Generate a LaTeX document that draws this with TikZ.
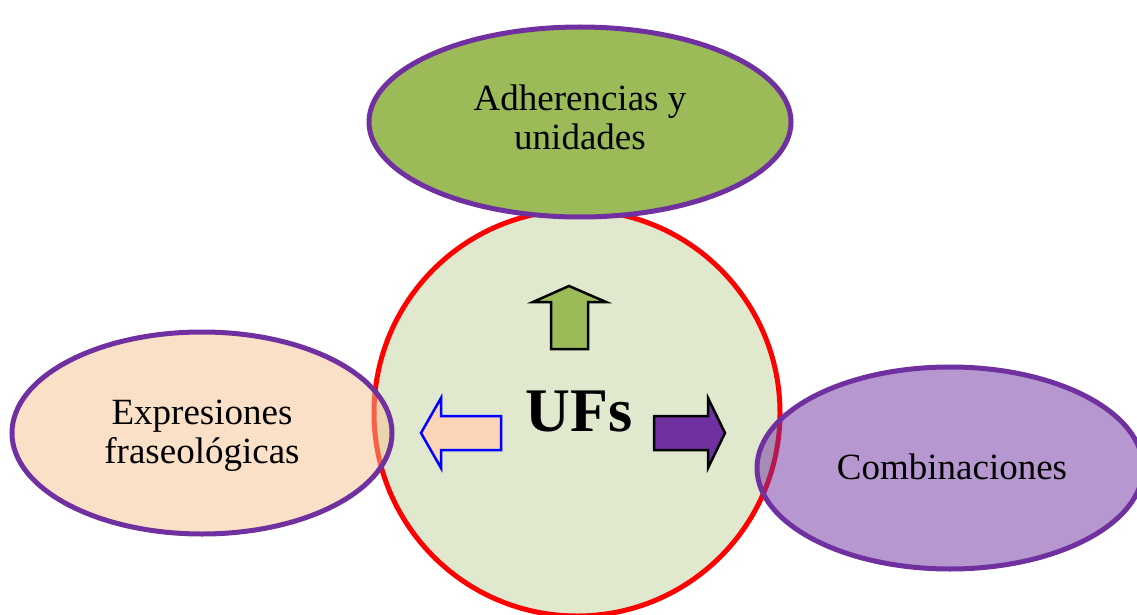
\documentclass[tikz,border=0pt]{standalone}
\usepackage{fontspec}
\setmainfont{Liberation Serif}
\definecolor{ringred}{HTML}{FF0000}
\definecolor{corefill}{HTML}{E0E9CD}
\definecolor{olive}{HTML}{9BBB59}
\definecolor{violet}{HTML}{7030A0}
\definecolor{peach}{HTML}{F7C191}
\definecolor{peachlight}{HTML}{FBD5B5}
\begin{document}
\begin{tikzpicture}[x=1pt,y=-1pt,
  blob/.style={draw=violet,line width=5pt},
  label/.style={font=\fontsize{37}{39}\selectfont,align=center,inner sep=0pt},
  arrowshape/.style={line width=2.5pt,line join=miter}]
\useasboundingbox (0,0) rectangle (1137,615);
\clip (0,0) rectangle (1137,615);
% central circle
\node[circle,draw=ringred,fill=corefill,line width=5pt,minimum size=406pt,inner sep=0pt] (core) at (577,413) {};
% top ellipse (opaque)
\draw[blob,fill=olive] (580,122) ellipse [x radius=211,y radius=95];
% side ellipses (translucent fill)
\draw[blob,fill=peach,fill opacity=0.5] (202,433) ellipse [x radius=190,y radius=101];
\draw[blob,fill=violet,fill opacity=0.5] (950,468) ellipse [x radius=193,y radius=101];
% labels
\node[label] (top) at (580,117) {Adherencias y\\unidades};
\node[label] (left) at (202,436) {Expresiones\\fraseológicas};
\node[label] (right) at (952,467) {Combinaciones};
\node[font=\fontsize{62}{62}\selectfont\bfseries,inner sep=0pt] (ufs) at (579,411) {UFs};
% block arrows
\draw[arrowshape,fill=olive,draw=black]
  (569,286) -- (606,302) -- (588,302) -- (588,349) -- (551,349) -- (551,302) -- (533,302) -- cycle;
\draw[arrowshape,fill=peachlight,draw=blue]
  (421,433) -- (441,398) -- (441,416) -- (501,416) -- (501,450) -- (441,450) -- (441,468) -- cycle;
\draw[arrowshape,fill=violet,draw=black]
  (725,433) -- (708,468) -- (708,450) -- (654,450) -- (654,416) -- (708,416) -- (708,398) -- cycle;
\end{tikzpicture}
\end{document}
